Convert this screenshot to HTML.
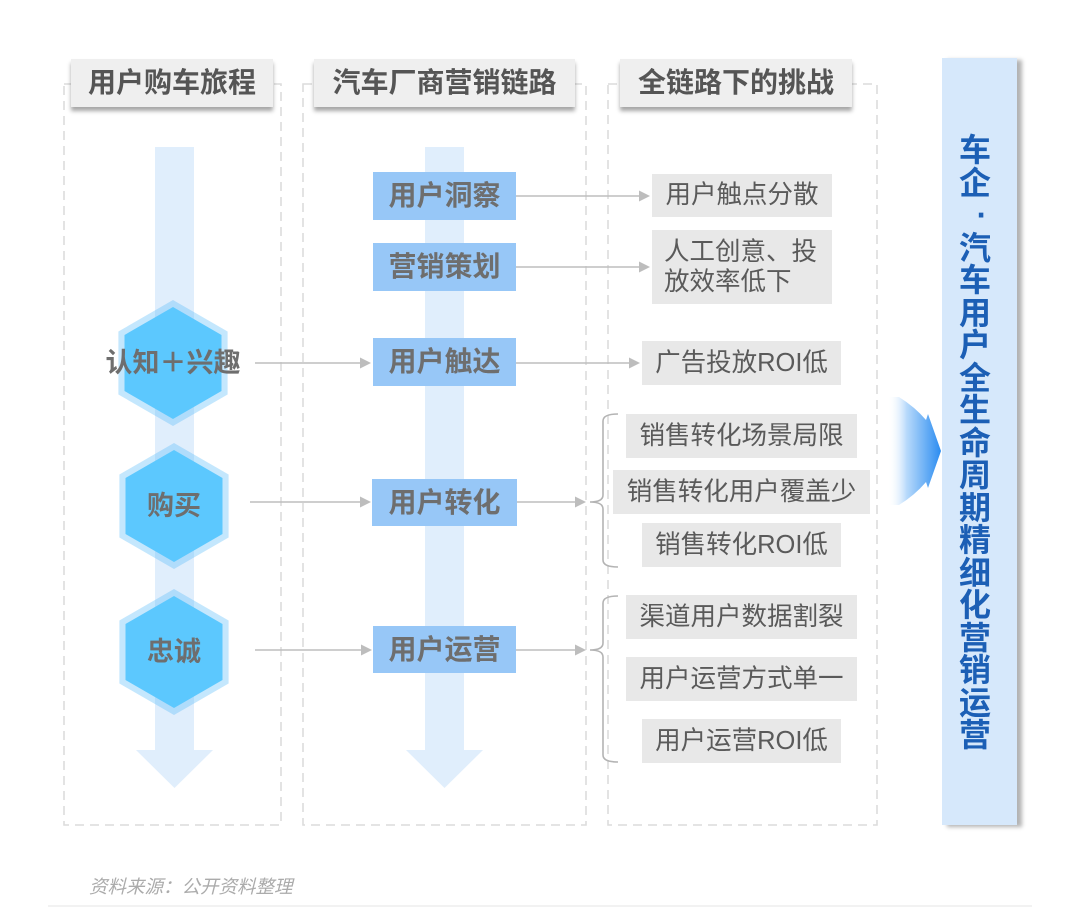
<!DOCTYPE html>
<html><head><meta charset="utf-8">
<style>
html,body{margin:0;padding:0;background:#fff;}
body{width:1080px;height:916px;position:relative;overflow:hidden;font-family:"Liberation Sans","Noto Sans CJK SC",sans-serif;}
.abs{position:absolute;}
.hdr{position:absolute;background:#efefef;box-shadow:0 4px 4px rgba(0,0,0,0.35);color:#555;font-weight:700;font-size:28px;text-align:center;line-height:48px;height:48px;white-space:nowrap;}
.bb{position:absolute;background:#97c7f7;color:#6e6e6e;font-weight:700;font-size:28px;text-align:center;white-space:nowrap;}
.gb{position:absolute;background:#e8e8e8;color:#5a5a5a;font-size:25.5px;text-align:center;white-space:nowrap;}
.hx{position:absolute;color:#6e6e6e;font-weight:700;font-size:27px;text-align:center;white-space:nowrap;line-height:30px;}
.panel{position:absolute;left:942px;top:58px;width:75px;height:767px;background:#d6e8fb;box-shadow:5px 2px 4px rgba(0,0,0,0.3);}
.vt{position:absolute;left:958px;top:134px;width:34px;color:#1c5fb5;font-weight:700;font-size:32px;text-align:center;}
.vt div{height:32.5px;line-height:32.5px;}
</style></head><body>
<svg class="abs" style="left:0;top:0" width="1080" height="916" viewBox="0 0 1080 916">
  <defs>
    <linearGradient id="ag" x1="0" y1="0" x2="1" y2="0">
      <stop offset="0" stop-color="#ffffff" stop-opacity="0"/>
      <stop offset="0.35" stop-color="#b8dafb"/>
      <stop offset="1" stop-color="#2b8cf0"/>
    </linearGradient>
  </defs>
  <g fill="none" stroke="#dcdcdc" stroke-width="1.6" stroke-dasharray="9 6">
    <rect x="64" y="84" width="217" height="741"/>
    <rect x="303" y="84" width="283" height="741"/>
    <rect x="608" y="84" width="269" height="741"/>
  </g>
  <g fill="#e0eefc">
    <rect x="155" y="147" width="39" height="604"/>
    <polygon points="136,750 213,750 174.5,788"/>
    <rect x="425" y="147" width="39" height="604"/>
    <polygon points="406,750 483,750 444.5,788"/>
  </g>
  <g fill="rgba(92,188,250,0.36)">
    <polygon points="173,300 227.6,331.5 227.6,394.5 173,426 118.4,394.5 118.4,331.5"/>
    <polygon points="174,443 228.6,474.5 228.6,537.5 174,569 119.4,537.5 119.4,474.5"/>
    <polygon points="174,589 228.6,620.5 228.6,683.5 174,715 119.4,683.5 119.4,620.5"/>
  </g>
  <g fill="#5cc8fe">
    <polygon points="173,307 221.5,335 221.5,391 173,419 124.5,391 124.5,335"/>
    <polygon points="174,450 222.5,478 222.5,534 174,562 125.5,534 125.5,478"/>
    <polygon points="174,596 222.5,624 222.5,680 174,708 125.5,680 125.5,624"/>
  </g>
  <g stroke="#bdbdbd" stroke-width="1.6" fill="none">
    <line x1="255" y1="363" x2="362" y2="363"/>
    <line x1="250" y1="502" x2="362" y2="502"/>
    <line x1="255" y1="650" x2="362" y2="650"/>
    <line x1="516" y1="196" x2="640" y2="196"/>
    <line x1="516" y1="267" x2="640" y2="267"/>
    <line x1="516" y1="363" x2="630" y2="363"/>
    <line x1="517" y1="502" x2="576" y2="502"/>
    <line x1="516" y1="650" x2="576" y2="650"/>
  </g>
  <g fill="#bdbdbd">
    <polygon points="360,357.5 371,363 360,368.5"/>
    <polygon points="360,496.5 371,502 360,507.5"/>
    <polygon points="361,644.5 372,650 361,655.5"/>
    <polygon points="639,190.5 650,196 639,201.5"/>
    <polygon points="639,261.5 650,267 639,272.5"/>
    <polygon points="629,357.5 640,363 629,368.5"/>
    <polygon points="575,496.5 586,502 575,507.5"/>
    <polygon points="575,644.5 586,650 575,655.5"/>
  </g>
  <g stroke="#b4b4b4" stroke-width="1.6" fill="none">
    <path d="M618 414 Q603 414 603 421 L603 495 Q603 502 590 502 Q603 502 603 509 L603 560 Q603 567 618 567"/>
    <path d="M618 596 Q603 596 603 603 L603 643 Q603 650 590 650 Q603 650 603 657 L603 755 Q603 762 618 762"/>
  </g>
  <path d="M888 397 L899 397 Q915 407 926 420 L928 414 L941 451 L928 488 L926 482 Q915 495 899 505 L888 505 Z" fill="url(#ag)"/>
  <line x1="48" y1="906" x2="1032" y2="906" stroke="#eeeeee" stroke-width="1.5"/>
</svg>

<div class="hdr" style="left:71px;top:59px;width:202px;">用户购车旅程</div>
<div class="hdr" style="left:314px;top:59px;width:261px;">汽车厂商营销链路</div>
<div class="hdr" style="left:620px;top:59px;width:232px;">全链路下的挑战</div>

<div class="hx" style="left:93px;top:348px;width:160px;">认知＋兴趣</div>
<div class="hx" style="left:114px;top:491px;width:120px;">购买</div>
<div class="hx" style="left:114px;top:637px;width:120px;">忠诚</div>

<div class="bb" style="left:373px;top:172px;width:143px;height:48px;line-height:48px;">用户洞察</div>
<div class="bb" style="left:373px;top:243px;width:143px;height:48px;line-height:48px;">营销策划</div>
<div class="bb" style="left:373px;top:338px;width:143px;height:48px;line-height:48px;">用户触达</div>
<div class="bb" style="left:372px;top:479px;width:145px;height:47px;line-height:47px;">用户转化</div>
<div class="bb" style="left:373px;top:626px;width:143px;height:47px;line-height:47px;">用户运营</div>

<div class="gb" style="left:652px;top:174px;width:180px;height:43px;line-height:43px;">用户触点分散</div>
<div class="gb" style="left:652px;top:230px;width:180px;height:74px;line-height:30px;text-align:left;"><div style="padding:7px 0 0 12px;white-space:normal;width:165px;">人工创意、投<br>放效率低下</div></div>
<div class="gb" style="left:642px;top:341px;width:199px;height:44px;line-height:44px;">广告投放ROI低</div>
<div class="gb" style="left:626px;top:414px;width:231px;height:44px;line-height:44px;">销售转化场景局限</div>
<div class="gb" style="left:613px;top:470px;width:257px;height:44px;line-height:44px;">销售转化用户覆盖少</div>
<div class="gb" style="left:642px;top:523px;width:199px;height:44px;line-height:44px;">销售转化ROI低</div>
<div class="gb" style="left:626px;top:595px;width:231px;height:44px;line-height:44px;">渠道用户数据割裂</div>
<div class="gb" style="left:626px;top:657px;width:231px;height:44px;line-height:44px;">用户运营方式单一</div>
<div class="gb" style="left:642px;top:719px;width:199px;height:44px;line-height:44px;">用户运营ROI低</div>

<div class="panel"></div>
<div class="vt">
<div>车</div><div>企</div><div style="padding-left:14px;">·</div><div>汽</div><div>车</div><div>用</div><div>户</div><div>全</div><div>生</div><div>命</div><div>周</div><div>期</div><div>精</div><div>细</div><div>化</div><div>营</div><div>销</div><div>运</div><div>营</div>
</div>

<div class="abs" style="left:89px;top:875px;font-size:18.5px;font-style:italic;color:#ababab;white-space:nowrap;line-height:24px;">资料来源：公开资料整理</div>
</body></html>
